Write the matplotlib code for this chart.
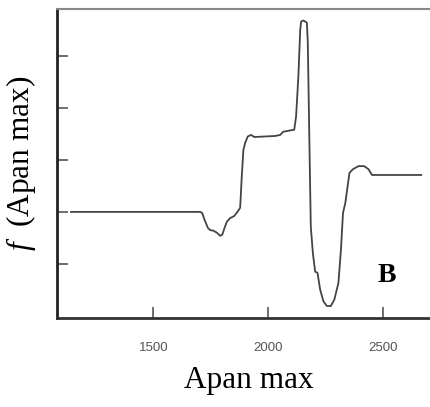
import matplotlib
matplotlib.use("Agg")
import matplotlib.pyplot as plt

# ===============================
# Data
# ===============================
apan_max = [1142, 1703, 1712, 1722, 1737, 1747, 1760, 1776, 1790, 1799, 1809,
            1819, 1833, 1851, 1867, 1877, 1884, 1891, 1899, 1910, 1925, 1938,
            2029, 2051, 2064, 2086, 2112, 2120, 2130, 2138, 2142, 2152, 2167,
            2171, 2178, 2184, 2193, 2203, 2213, 2225, 2239, 2254, 2271, 2286,
            2304, 2315, 2324, 2334, 2344, 2352, 2367, 2391, 2416, 2435, 2450,
            2664]
f_values = [0.0, 0.0, -0.02, -0.15, -0.31, -0.35, -0.36, -0.40, -0.46, -0.44,
            -0.31, -0.19, -0.12, -0.08, 0.01, 0.08, 0.68, 1.19, 1.33, 1.45,
            1.48, 1.44, 1.46, 1.48, 1.54, 1.56, 1.58, 1.83, 2.60, 3.50, 3.66,
            3.68, 3.64, 3.25, 1.33, -0.28, -0.79, -1.15, -1.17, -1.50, -1.72,
            -1.81, -1.81, -1.69, -1.37, -0.73, -0.02, 0.17, 0.49, 0.75, 0.82,
            0.88, 0.88, 0.82, 0.71, 0.71]
x_ticks = [1500, 2000, 2500]
y_ticks = [-1, 0, 1, 2, 3]
panel_label = "B"

# ===============================
# Figure
# ===============================
plt.rcParams['mathtext.fontset'] = 'custom'
plt.rcParams['mathtext.rm'] = 'Liberation Serif'
plt.rcParams['mathtext.it'] = 'Liberation Serif:italic'

fig = plt.figure(figsize=(4.30, 4.07), dpi=100)
ax = fig.add_axes([0.1326, 0.2187, 0.893, 0.759])

ax.plot(apan_max, f_values, color='#444444', linewidth=1.3)

ax.set_xlim(1081, 2750)
ax.set_ylim(-2.04, 3.90)
ax.set_xticks(x_ticks)
ax.set_yticks(y_ticks)
ax.set_yticklabels([])

ax.tick_params(axis='both', direction='in', length=8, width=1.2, colors='#555555')
ax.tick_params(axis='x', pad=17, labelsize=9.5, labelcolor='#555555')
for lbl in ax.get_xticklabels():
    lbl.set_family('Liberation Sans')

ax.spines['left'].set_color('#222222')
ax.spines['left'].set_linewidth(2)
ax.spines['bottom'].set_color('#333333')
ax.spines['bottom'].set_linewidth(2)
ax.spines['top'].set_color('#888888')
ax.spines['top'].set_linewidth(1.5)
ax.spines['right'].set_visible(False)

ax.set_xlabel("Apan max", family='Liberation Serif', fontsize=22.5, labelpad=9)
ax.set_ylabel(r"$f$  (Apan max)", family='Liberation Serif', fontsize=22.5, labelpad=10)

ax.text(0.859, 0.136, panel_label, transform=ax.transAxes, ha='center', va='center',
        family='Liberation Serif', fontweight='bold', fontsize=20)

fig.savefig("out.png", dpi=100)
